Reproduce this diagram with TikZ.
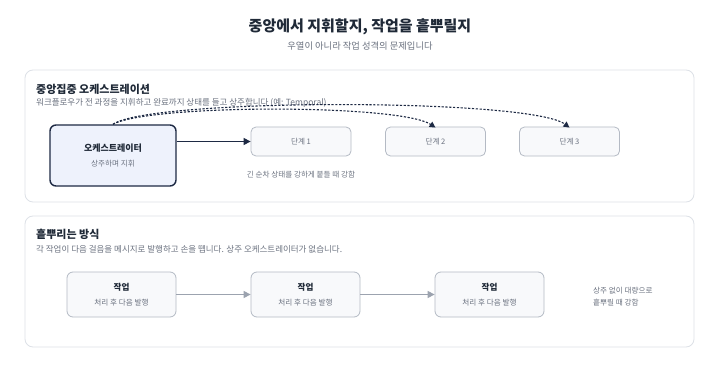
\documentclass[tikz,border=0pt]{standalone}
\usepackage{fontspec}
\setmainfont{Noto Sans CJK KR}
\usetikzlibrary{arrows.meta}
\definecolor{navy}{HTML}{1E2A44}
\definecolor{ink}{HTML}{1F2937}
\definecolor{muted}{HTML}{6B7280}
\definecolor{panelline}{HTML}{DDE1E7}
\definecolor{boxline}{HTML}{B4BAC4}
\definecolor{boxfill}{HTML}{F8F9FB}
\definecolor{orchfill}{HTML}{EEF2FC}
\definecolor{arrgray}{HTML}{9CA3AF}
\tikzset{
  panel/.style={draw=panelline, line width=0.8pt, rounded corners=8pt, fill=white},
  stepbox/.style={draw=boxline, line width=0.8pt, rounded corners=5pt, fill=boxfill, minimum width=100pt, minimum height=29pt, inner sep=0pt, font=\fontsize{7.6}{9}\selectfont, text=muted},
  taskbox/.style={draw=boxline, line width=0.8pt, rounded corners=6pt, fill=boxfill, minimum width=109pt, minimum height=45pt, inner sep=0pt, align=center},
  orchbox/.style={draw=navy, line width=1.4pt, rounded corners=6pt, fill=orchfill, minimum width=126pt, minimum height=61pt, inner sep=0pt, align=center},
  ptitle/.style={anchor=west, font=\fontsize{11}{13}\selectfont\bfseries, text=ink, inner sep=0pt},
  pdesc/.style={anchor=west, font=\fontsize{8.5}{10}\selectfont, text=muted, inner sep=0pt},
  note/.style={font=\fontsize{7.6}{9}\selectfont, text=muted, inner sep=0pt},
  navyarrow/.style={draw=navy, line width=1.2pt, -{Triangle[length=7pt,width=7pt]}},
  grayarrow/.style={draw=arrgray, line width=1.2pt, -{Triangle[length=7pt,width=7pt]}},
  dasharrow/.style={draw=navy, line width=1.1pt, dash pattern=on 2.2pt off 1.6pt, -{Triangle[length=6pt,width=6pt]}}
}
\begin{document}
\begin{tikzpicture}[x=1pt,y=-1pt]
\useasboundingbox[fill=white] (0,0) rectangle (720,385);
% titles
\node[font=\fontsize{15}{17}\selectfont\bfseries, text=ink] (title) at (360,27) {중앙에서 지휘할지, 작업을 흩뿌릴지};
\node[font=\fontsize{9.3}{11}\selectfont, text=muted] (subtitle) at (360,46) {우열이 아니라 작업 성격의 문제입니다};
% panel 1
\draw[panel] (25,70) rectangle (694,202);
\node[ptitle] (p1t) at (36,89) {중앙집중 오케스트레이션};
\node[pdesc] (p1d) at (36,103) {워크플로우가 전 과정을 지휘하고 완료까지 상태를 들고 상주합니다 (예: Temporal)};
\node[orchbox] (orch) at (113,155.5) {{\fontsize{9}{10}\selectfont\bfseries\color{ink}오케스트레이터}\\[3pt]{\fontsize{7.6}{9}\selectfont\color{muted}상주하며 지휘}};
\node[stepbox] (s1) at (301,141.5) {단계 1};
\node[stepbox] (s2) at (435.5,141.5) {단계 2};
\node[stepbox] (s3) at (569.5,141.5) {단계 3};
\node[note] (n1) at (301,175) {긴 순차 상태를 강하게 붙들 때 강함};
\draw[navyarrow] (orch.east |- s1.west) -- (s1.west);
\draw[dasharrow] (orch.north) .. controls (150,104) and (400,104) .. ([yshift=-1pt]s2.north);
\draw[dasharrow] (orch.north) .. controls (150,98) and (530,98) .. ([yshift=-1pt]s3.north);
% panel 2
\draw[panel] (25,216) rectangle (694,347);
\node[ptitle] (p2t) at (36,234) {흩뿌리는 방식};
\node[pdesc] (p2d) at (36,249) {각 작업이 다음 걸음을 메시지로 발행하고 손을 뗍니다. 상주 오케스트레이터가 없습니다.};
\node[taskbox] (t1) at (121.5,294.5) {{\fontsize{8.6}{10}\selectfont\bfseries\color{ink}작업}\\[3pt]{\fontsize{7.6}{9}\selectfont\color{muted}처리 후 다음 발행}};
\node[taskbox] (t2) at (305.5,294.5) {{\fontsize{8.6}{10}\selectfont\bfseries\color{ink}작업}\\[3pt]{\fontsize{7.6}{9}\selectfont\color{muted}처리 후 다음 발행}};
\node[taskbox] (t3) at (489.5,294.5) {{\fontsize{8.6}{10}\selectfont\bfseries\color{ink}작업}\\[3pt]{\fontsize{7.6}{9}\selectfont\color{muted}처리 후 다음 발행}};
\draw[grayarrow] (t1.east) -- (t2.west);
\draw[grayarrow] (t2.east) -- (t3.west);
\node[note, anchor=west, align=left] (n2) at (593,296.5) {상주 없이 대량으로\\[3pt]흩뿌릴 때 강함};
\end{tikzpicture}
\end{document}
